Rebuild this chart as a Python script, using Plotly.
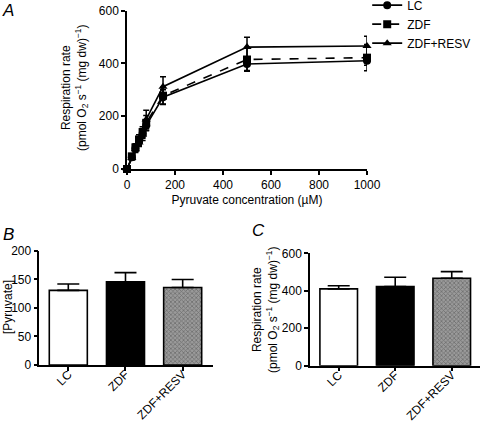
import plotly.graph_objects as go

# ---------------- data ----------------
conc = [0, 20, 35, 50, 65, 80, 150, 500, 1000]
lc_rate = [0, 45, 78, 105, 135, 165, 272, 398, 410]
lc_err = [0, 8, 12, 15, 18, 20, 28, 25, 17]
zdf_rate = [0, 48, 82, 112, 140, 175, 278, 415, 422]
zdf_err = [0, 8, 14, 18, 20, 28, 32, 45, 50]
resv_rate = [0, 42, 75, 100, 130, 188, 312, 462, 466]
resv_err = [0, 8, 12, 15, 22, 35, 38, 37, 37]

groups = ["LC", "ZDF", "ZDF+RESV"]
pyruvate = [131, 146, 136]
pyruvate_err = [11, 16, 14]
resp = [410, 422, 467]
resp_err = [17, 50, 35]

FONT = "Arial, Liberation Sans, Helvetica, sans-serif"
fig = go.Figure()

# ---------------- panel A ----------------
series = [
    ("LC", lc_rate, lc_err, "circle", "solid"),
    ("ZDF", zdf_rate, zdf_err, "square", "dash"),
    ("ZDF+RESV", resv_rate, resv_err, "triangle-up", "solid"),
]
for name, vals, errs, sym, dash in series:
    fig.add_trace(go.Scatter(
        x=conc, y=vals, name=name, mode="lines+markers",
        line=dict(color="black", width=1.6, dash=dash),
        marker=dict(symbol=sym, size=8, color="black"),
        error_y=dict(type="data", array=errs, visible=True, color="black",
                     thickness=1.5, width=3),
        cliponaxis=False, xaxis="x", yaxis="y",
    ))

# ---------------- panel B ----------------
fig.add_trace(go.Bar(
    x=groups, y=pyruvate, width=0.665, showlegend=False,
    marker=dict(color=["white", "black", "#9a9a9a"],
                line=dict(color="black", width=1.6),
                pattern=dict(shape=["", "", "x"], size=3, solidity=0.45,
                             fgcolor="#555555")),
    error_y=dict(type="data", symmetric=False, array=pyruvate_err,
                 arrayminus=[0, 0, 0], color="black", thickness=1.6, width=11),
    xaxis="x2", yaxis="y2",
))

# ---------------- panel C ----------------
fig.add_trace(go.Bar(
    x=groups, y=resp, width=0.665, showlegend=False,
    marker=dict(color=["white", "black", "#9a9a9a"],
                line=dict(color="black", width=1.6),
                pattern=dict(shape=["", "", "x"], size=3, solidity=0.45,
                             fgcolor="#555555")),
    error_y=dict(type="data", symmetric=False, array=resp_err,
                 arrayminus=[0, 0, 0], color="black", thickness=1.6, width=11),
    xaxis="x3", yaxis="y3",
))

ax_common = dict(showline=True, linecolor="black", linewidth=1.5,
                 ticks="outside", ticklen=4, tickwidth=1.5, tickcolor="black",
                 showgrid=False, zeroline=False, automargin=False,
                 tickfont=dict(family=FONT, size=12, color="black"))

fig.update_layout(
    width=480, height=424,
    margin=dict(l=0, r=0, t=0, b=0, autoexpand=False),
    paper_bgcolor="white", plot_bgcolor="white",
    font=dict(family=FONT, size=12, color="black"),
    bargap=0.3,
    xaxis=dict(domain=[0.2646, 0.7646], range=[0, 1000],
               tickvals=[0, 200, 400, 600, 800, 1000],
               title=dict(text="Pyruvate concentration (µM)",
                          font=dict(size=12), standoff=4),
               anchor="y", **ax_common),
    yaxis=dict(domain=[0.6014, 0.9748], range=[0, 600],
               tickvals=[0, 200, 400, 600], anchor="x", **ax_common),
    xaxis2=dict(domain=[0.0819, 0.443], range=[-0.507, 2.524],
                type="category", tickangle=-45, ticklabelstandoff=-8,
                anchor="y2", **ax_common),
    yaxis2=dict(domain=[0.1392, 0.408], range=[0, 200],
                tickvals=[0, 50, 100, 150, 200], anchor="x2", **ax_common),
    xaxis3=dict(domain=[0.6458, 1.0], range=[-0.508, 2.5],
                type="category", tickangle=-45, ticklabelstandoff=-8,
                anchor="y3", **ax_common),
    yaxis3=dict(domain=[0.1375, 0.4026], range=[0, 600],
                tickvals=[0, 200, 400, 600], anchor="x3", **ax_common),
    legend=dict(x=0.765, y=1.022, xanchor="left", yanchor="top",
                font=dict(size=12), tracegroupgap=0, itemwidth=30,
                bgcolor="rgba(0,0,0,0)"),
)

ytitle = ("Respiration rate<br>(pmol O<sub>2</sub> s<sup>−1</sup> "
          "(mg dw)<sup>−1</sup>)")
annos = [
    dict(x=8, y=10, text="<i>A</i>", font=dict(size=17)),
    dict(x=8, y=235, text="<i>B</i>", font=dict(size=17)),
    dict(x=258, y=230, text="<i>C</i>", font=dict(size=17)),
    dict(x=75, y=88, text=ytitle, textangle=-90, font=dict(size=12)),
    dict(x=8, y=307, text="[Pyruvate]", textangle=-90, font=dict(size=12)),
    dict(x=265, y=310, text=ytitle, textangle=-90, font=dict(size=12)),
]
for a in annos:
    fig.add_annotation(xref="paper", yref="paper", x=a["x"] / 480,
                       y=1 - a["y"] / 424, text=a["text"], showarrow=False,
                       textangle=a.get("textangle", 0), font=a["font"],
                       xanchor="center", yanchor="middle")

fig.write_html("out.html", config={"displayModeBar": False},
               post_script="document.body.style.margin='0';"
                           "document.body.style.overflow='hidden';")
